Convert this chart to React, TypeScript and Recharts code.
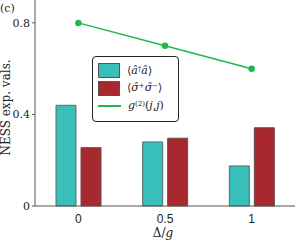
import React from "react";
import {
  ComposedChart,
  Bar,
  Line,
  XAxis,
  YAxis,
} from "recharts";

const detunings = ["0", "0.5", "1"];
const photonNumber = [0.44, 0.28, 0.175];
const atomExcitation = [0.255, 0.296, 0.342];
const g2Values = [0.8, 0.7, 0.6];
const yTicks = [0, 0.4, 0.8];

const TEAL = "#38bfb9";
const RED = "#a8282f";
const GREEN = "#1eb84e";
const AXIS = "#555";
const SERIF = "'DejaVu Serif', 'Liberation Serif', serif";
const SANS = "'Liberation Sans', Arial, sans-serif";

const data = detunings.map((d, i) => ({
  d,
  n: photonNumber[i],
  s: atomExcitation[i],
  g2: g2Values[i],
}));

// legend drawn as an overlay so it doesn't eat plot space
function LegendBox() {
  const row = { display: "flex", alignItems: "center", height: 17.5 } as const;
  const swatch = (c: string) => ({
    width: 22,
    height: 15,
    background: c,
    border: "1px solid #555",
    marginRight: 7,
    boxSizing: "border-box" as const,
  });
  const sup = { fontSize: 7, verticalAlign: "top", lineHeight: "8px", fontStyle: "normal" } as const;
  return (
    <div
      style={{
        position: "absolute",
        left: 92,
        top: 56,
        width: 87,
        height: 66,
        border: "1px solid #222",
        borderRadius: 4,
        background: "#fff",
        padding: "5px 0 0 5px",
        boxSizing: "border-box",
        fontFamily: SERIF,
        fontSize: 11,
        color: "#222",
        lineHeight: "12px",
        whiteSpace: "nowrap",
      }}
    >
      <div style={row}>
        <div style={swatch(TEAL)} />
        <span>⟨<i>â</i><span style={sup}>†</span><i>â</i>⟩</span>
      </div>
      <div style={row}>
        <div style={swatch(RED)} />
        <span>⟨<i>σ̂</i><span style={sup}>+</span><i>σ̂</i><span style={sup}>−</span>⟩</span>
      </div>
      <div style={row}>
        <div style={{ width: 23, height: 1.5, background: GREEN, marginRight: 7 }} />
        <span>
          <i>g</i>
          <span style={sup}>(2)</span>(<i>j</i>,<i>j</i>)
        </span>
      </div>
    </div>
  );
}

const YTick = ({ x, y, payload }: any) => (
  <text x={x} y={y} dy={4} textAnchor="end" fontFamily={SERIF} fontSize={11} fill="#222">
    {payload.value}
  </text>
);

export default function App() {
  return (
    <div style={{ position: "absolute", left: 0, top: 0, width: 295, height: 242, background: "#fff" }}>
      <ComposedChart
        width={295}
        height={242}
        data={data}
        margin={{ top: 0, right: 0, bottom: 0, left: 0 }}
        barSize={20}
        barGap={5}
      >
        <XAxis
          dataKey="d"
          height={36}
          stroke={AXIS}
          tickLine={false}
          tickMargin={2}
          tick={{ fill: "#222", fontSize: 12, fontFamily: SANS }}
          label={{
            position: "insideBottom",
            content: ({ viewBox }: any) => (
              <text
                x={viewBox.x + viewBox.width / 2 - 2}
                y={237}
                textAnchor="middle"
                fontFamily={SERIF}
                fontSize={12}
                fill="#222"
              >
                Δ/<tspan fontStyle="italic">g</tspan>
              </text>
            ),
          }}
        />
        <YAxis
          width={35}
          domain={[0, 0.9]}
          ticks={yTicks}
          stroke={AXIS}
          tickSize={3}
          tickMargin={2}
          tick={<YTick />}
          label={{
            position: "insideLeft",
            content: () => (
              <text
                transform="translate(10,107.5) rotate(-90)"
                textAnchor="middle"
                fontFamily={SERIF}
                fontSize={12}
                fill="#222"
              >
                NESS exp. vals.
              </text>
            ),
          }}
        />
        <Bar dataKey="n" fill={TEAL} stroke="#5a6b6a" strokeWidth={1} isAnimationActive={false} />
        <Bar dataKey="s" fill={RED} stroke="#6b4a4a" strokeWidth={1} isAnimationActive={false} />
        <Line
          dataKey="g2"
          stroke={GREEN}
          strokeWidth={1.5}
          dot={{ r: 2.5, fill: GREEN, stroke: GREEN }}
          isAnimationActive={false}
        />
      </ComposedChart>
      <div style={{ position: "absolute", left: 0, top: 2, fontFamily: SERIF, fontSize: 11, color: "#222" }}>
        (c)
      </div>
      <LegendBox />
    </div>
  );
}
